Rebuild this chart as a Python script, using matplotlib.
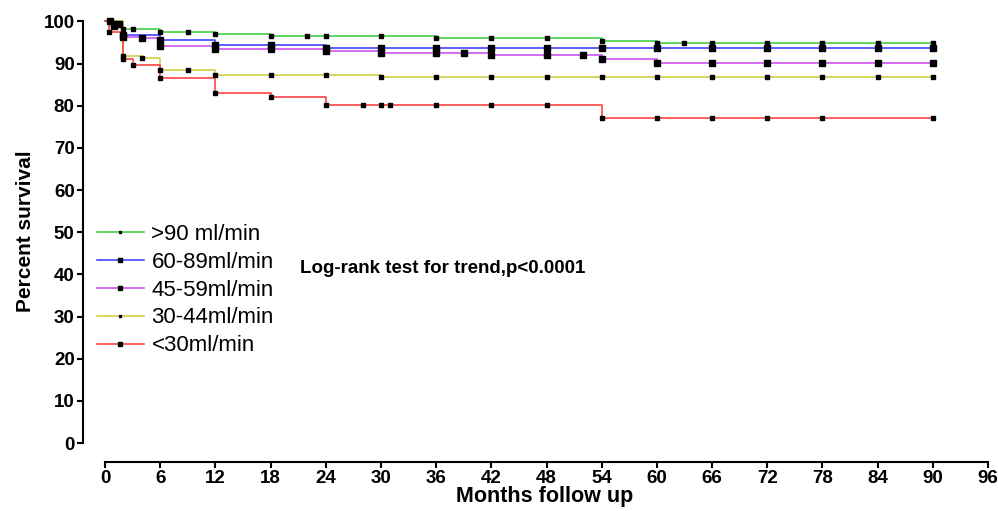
import numpy as np
import matplotlib
matplotlib.use("Agg")
import matplotlib.pyplot as plt
from matplotlib.lines import Line2D

plt.rcParams['font.family'] = ['Liberation Sans', 'DejaVu Sans']

labels = [">90 ml/min", "60-89ml/min", "45-59ml/min", "30-44ml/min", "<30ml/min"]
colors = ["#33CC33", "#3333FF", "#CC44EE", "#CCCC33", "#FF3333"]

green_t = [0, 1, 2, 6, 12, 18, 36, 54, 60, 90]
green_s = [100, 99.5, 98.3, 97.6, 97.1, 96.6, 96.1, 95.4, 94.9, 94.9]
green_c = [0.5, 1, 1.5, 2, 3, 6, 9, 12, 18, 22, 24, 30, 36, 42, 48, 54, 60, 63, 66, 72, 78, 84, 90]

blue_t = [0, 1, 2, 6, 12, 24, 36, 90]
blue_s = [100, 99.3, 96.9, 95.6, 94.4, 93.8, 93.6, 93.6]
blue_c = [0.5, 1, 1.5, 2, 6, 12, 18, 24, 30, 36, 42, 48, 54, 60, 66, 72, 78, 84, 90]

mag_t = [0, 1, 2, 4, 6, 12, 24, 30, 42, 54, 60, 90]
mag_s = [100, 99.0, 96.3, 96.0, 94.1, 93.4, 92.9, 92.5, 92.0, 91.0, 90.1, 90.1]
mag_c = [1, 2, 4, 6, 12, 18, 24, 30, 36, 39, 42, 48, 52, 54, 60, 66, 72, 78, 84, 90]

yel_t = [0, 2, 4, 6, 12, 30, 90]
yel_s = [100, 91.9, 91.4, 88.4, 87.3, 86.9, 86.9]
yel_c = [2, 4, 6, 9, 12, 18, 24, 30, 36, 42, 48, 54, 60, 66, 72, 78, 84, 90]

red_t = [0, 0.4, 2, 3, 6, 12, 18, 24, 54, 90]
red_s = [100, 97.6, 91.2, 89.7, 86.6, 83.1, 82.1, 80.1, 77.2, 77.2]
red_c = [0.4, 2, 3, 6, 12, 18, 24, 28, 30, 31, 36, 42, 48, 54, 60, 66, 72, 78, 90]

series = [(green_t, green_s, green_c), (blue_t, blue_s, blue_c), (mag_t, mag_s, mag_c),
          (yel_t, yel_s, yel_c), (red_t, red_s, red_c)]
msizes = [2.5, 4, 4, 2.5, 3.2]

W, H = 998, 511
fig = plt.figure(figsize=(W / 100, H / 100), dpi=100)
ax = fig.add_axes([83 / W, 1 - 443 / H, (988 - 83) / W, (443 - 21.5) / H])

handles = []
for (t, s, c), col, lab, ms in zip(series, colors, labels, msizes):
    t = np.array(t, float)
    s = np.array(s, float)
    ax.step(t, s, where='post', color=col, lw=1.1, clip_on=False, zorder=2)
    c = np.array(c, float)
    idx = np.searchsorted(t, c, side='right') - 1
    ax.plot(c, s[idx], ls='none', marker='s', ms=ms, color='black', clip_on=False, zorder=3)
    handles.append(Line2D([0], [0], color=col, lw=1.1, marker='s', ms=ms * 0.8,
                          markerfacecolor='black', markeredgecolor='black'))

ax.set_xlim(-2.4, 96)
ax.set_ylim(0, 100)
ax.set_xticks(np.arange(0, 97, 6))
ax.set_yticks(np.arange(0, 101, 10))

for sp in ['top', 'right']:
    ax.spines[sp].set_visible(False)
ax.spines['left'].set_bounds(0, 100)
ax.spines['bottom'].set_bounds(0, 96)
ax.spines['bottom'].set_position(('outward', 13.7))
ax.spines['left'].set_linewidth(1.5)
ax.spines['bottom'].set_linewidth(1.5)
ax.tick_params(axis='both', direction='out', length=4, width=1.5, labelsize=13.5, pad=2)
for lbl in ax.get_xticklabels() + ax.get_yticklabels():
    lbl.set_fontweight('bold')

ax.set_ylabel("Percent survival", fontsize=15, fontweight='bold')
ax.yaxis.set_label_coords(-0.053, 0.503)
ax.set_xlabel("Months follow up", fontsize=15.5, fontweight='bold')
ax.xaxis.set_label_coords(0.51, -0.103)

leg = ax.legend(handles, labels, loc='upper left', bbox_to_anchor=(0.0155, 0.52),
                frameon=False, fontsize=16, handlelength=2.1, handletextpad=0.35,
                labelspacing=0.31, borderpad=0, borderaxespad=0)

ax.text(21.2, 41.5, "Log-rank test for trend,p<0.0001", fontsize=13.5, fontweight='bold',
        va='center', ha='left')

fig.savefig("out.png", dpi=100)
